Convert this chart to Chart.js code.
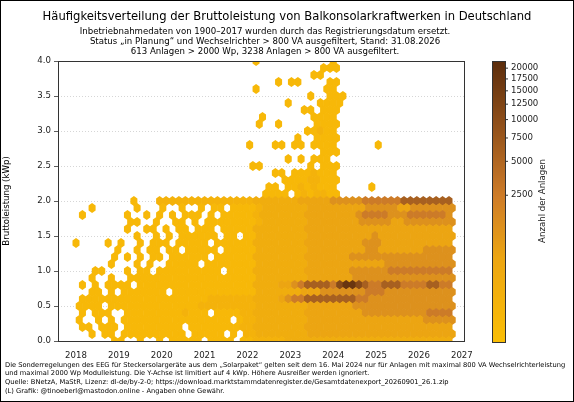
<!DOCTYPE html>
<html><head><meta charset="utf-8">
<script src="https://cdn.jsdelivr.net/npm/chart.js@4"></script>
<style>body{margin:0;background:#fff}#c{display:block}</style>
</head><body>
<canvas id="c" width="574" height="402"></canvas>
<script>
// hexbin cells: rows from 4.0 kWp down to 0.0 kWp (step 0.1)
// left part = columns 0..27 (2018.0 - 2022.05), right part = columns 28..58 (2022.2 - 2026.7), step 0.15 year
// '.' empty, digits = density level
const hexRowsLeft = [
  '', '', '', '', '', '', '', '', '', '', '', '',
  '...........................1', '', '',
  '...........................1', '', '', '', '',
  '.........1...222222222222222',
  '..1......1...1..1..1.11.1111',
  '.1......1..1.1.1.111.1.11111',
  '........11..1..11.1.11111111',
  '........1..11.1.11.111.11111',
  '.........1..1.1.111111.11.11',
  '1....1.1..1.111.11111.111111',
  '......1..1.11.11.11111.11111',
  '......1.1.1.11.111111.111111',
  '.....1...1.1..11111.11111111',
  '...11...1.11.1111111111.1111',
  '..1..1..11111111111111111111',
  '.1.1.1111.111111111111111111',
  '..11.1.1111111.1111111111111',
  '.111111111111111111112222222',
  '1111.11111111111111222222222',
  '.1.111..1111111112111.111122',
  '1..1.1.11111111111111111.122',
  '.11.111.111111111.1111111122',
  '..1.11.1111111111.11111.1.22',
  '......11..1..1.11111.1111.11'
];
const hexRowsRight = [
  '1...........1',
  '..........111',
  '.........11',
  '...1.11....11',
  '1..........11',
  '........1..111',
  '.....1....1111',
  '.......11.111',
  '.1.......1111',
  '1..1.....1111',
  '........11211',
  '......1..1111',
  '...11.11.1111......1',
  '..........111',
  '.....1.1.111',
  '1.......1.111',
  '...11.1112111',
  '....111122111',
  '..11.11212111.....1',
  '.1111.1212211',
  '3333333444445555566666677777777',
  '2333333344444444455555445555555',
  '2333333344444444566665556666665',
  '2333333344444444555554455555555',
  '3333333344444444444444444444444',
  '3333333344444444445444444444444',
  '3333333344444444455544444444444',
  '3333333344444444455444444455555',
  '3333333344444445555555555555555',
  '3333333344444444444455555555555',
  '3333333344444445555556666666666',
  '3333333344444445555555555555555',
  '3333445677776899876677766667766',
  '3333333444555555566655555555555',
  '3333456677777777665555555555555',
  '3333333344444445555555555555555',
  '3333333344444444455555555556666',
  '3333333344444444444444444455555',
  '3333333344444444444444444444444',
  '3333333344444444444444444444444',
  '2222233333333333333333333333333'
];
const levelCounts = [0, 3, 30, 120, 380, 1100, 2600, 6000, 11000, 18000];
const yearTicks = [2018, 2019, 2020, 2021, 2022, 2023, 2024, 2025, 2026, 2027];
const kwpTicks = [0, 0.5, 1, 1.5, 2, 2.5, 3, 3.5, 4];
const cbarTicks = [2500, 5000, 7500, 10000, 12500, 15000, 17500, 20000];

const X0 = 2018, DX = 0.15, DY = 0.1, NMAX = 21800, GAMMA = 0.3;
const stops = [[0,[250,190,5]],[0.3,[236,165,18]],[0.52,[206,124,40]],[0.75,[150,84,28]],[1,[92,45,12]]];
function cmap(f){
  f = Math.max(0, Math.min(1, f));
  for (let i = 1; i < stops.length; i++) {
    if (f <= stops[i][0]) {
      const a = stops[i-1], b = stops[i], t = (f - a[0]) / (b[0] - a[0]);
      const c = a[1].map((v, k) => Math.round(v + (b[1][k] - v) * t));
      return 'rgb(' + c.join(',') + ')';
    }
  }
  return 'rgb(92,45,12)';
}
const norm = v => Math.pow(v / NMAX, GAMMA);

const pts = [];
hexRowsLeft.forEach((l, k) => {
  const row = l.padEnd(28, '.').slice(0, 28) + (hexRowsRight[k] || '');
  const y = 4.0 - k * DY;
  for (let c = 0; c < row.length; c++) {
    const ch = row[c];
    if (ch === '.') continue;
    pts.push({x: X0 + c * DX + (k % 2 ? DX / 2 : 0), y: y, color: cmap(norm(levelCounts[+ch]))});
  }
});

const hexPlugin = {
  id: 'hex',
  afterDatasetsDraw(chart) {
    const ctx = chart.ctx, xs = chart.scales.x, ys = chart.scales.y, a = chart.chartArea;
    const w = Math.abs(xs.getPixelForValue(X0 + DX) - xs.getPixelForValue(X0)) / 2 + 0.3;
    const h = Math.abs(ys.getPixelForValue(0) - ys.getPixelForValue(DY)) / 1.5 + 0.3;
    ctx.save();
    ctx.beginPath();
    ctx.rect(a.left, a.top, a.right - a.left, a.bottom - a.top);
    ctx.clip();
    chart.data.datasets[0].data.forEach(d => {
      const px = xs.getPixelForValue(d.x), py = ys.getPixelForValue(d.y);
      ctx.fillStyle = d.color;
      ctx.beginPath();
      ctx.moveTo(px, py - h);
      ctx.lineTo(px + w, py - h / 2);
      ctx.lineTo(px + w, py + h / 2);
      ctx.lineTo(px, py + h);
      ctx.lineTo(px - w, py + h / 2);
      ctx.lineTo(px - w, py - h / 2);
      ctx.closePath();
      ctx.fill();
    });
    ctx.restore();
  },
  afterDraw(chart) {
    const ctx = chart.ctx, a = chart.chartArea;
    ctx.save();
    ctx.strokeStyle = '#333'; ctx.lineWidth = 1;
    ctx.strokeRect(a.left + 0.5, a.top + 0.5, a.right - a.left, a.bottom - a.top);
    // figure frame
    ctx.strokeStyle = '#000';
    ctx.strokeRect(0.5, 0.5, 573, 401);
    // titles
    ctx.fillStyle = '#000'; ctx.textAlign = 'center'; ctx.textBaseline = 'middle';
    ctx.font = '11.6px "DejaVu Sans"';
    ctx.fillText('Häufigkeitsverteilung der Bruttoleistung von Balkonsolarkraftwerken in Deutschland', 287, 17);
    ctx.font = '8.6px "DejaVu Sans"';
    const cx = (a.left + a.right) / 2 + 4;
    ctx.fillText('Inbetriebnahmedaten von 1900–2017 wurden durch das Registrierungsdatum ersetzt.', cx, 32);
    ctx.fillText('Status „in Planung“ und Wechselrichter > 800 VA ausgefiltert, Stand: 31.08.2026', cx, 42);
    ctx.fillText('613 Anlagen > 2000 Wp, 3238 Anlagen > 800 VA ausgefiltert.', cx, 52);
    // colorbar
    const cbL = 492, cbR = 505, cbT = 61, cbB = 342;
    for (let yy = cbT; yy < cbB; yy++) {
      ctx.fillStyle = cmap((cbB - yy) / (cbB - cbT));
      ctx.fillRect(cbL, yy, cbR - cbL, 1);
    }
    ctx.strokeStyle = '#333';
    ctx.strokeRect(cbL + 0.5, cbT + 0.5, cbR - cbL, cbB - cbT);
    ctx.fillStyle = '#222'; ctx.textAlign = 'left'; ctx.font = '8.6px "DejaVu Sans"';
    cbarTicks.forEach(v => {
      const yy = cbB - norm(v) * (cbB - cbT);
      ctx.beginPath(); ctx.moveTo(cbR, yy); ctx.lineTo(cbR + 3, yy); ctx.stroke();
      ctx.fillText(String(v), cbR + 6, yy);
    });
    ctx.save();
    ctx.translate(543, 201); ctx.rotate(-Math.PI / 2); ctx.textAlign = 'center';
    ctx.fillText('Anzahl der Anlagen', 0, 0);
    ctx.restore();
    // footer
    ctx.font = '6.7px "DejaVu Sans"'; ctx.fillStyle = '#000'; ctx.textAlign = 'left';
    const foot = [
      'Die Sonderregelungen des EEG für Steckersolargeräte aus dem „Solarpaket“ gelten seit dem 16. Mai 2024 nur für Anlagen mit maximal 800 VA Wechselrichterleistung',
      'und maximal 2000 Wp Modulleistung. Die Y-Achse ist limitiert auf 4 kWp. Höhere Ausreißer werden ignoriert.',
      'Quelle: BNetzA, MaStR, Lizenz: dl-de/by-2-0; https://download.marktstammdatenregister.de/Gesamtdatenexport_20260901_26.1.zip',
      '(L) Grafik: @tinoeberl@mastodon.online - Angaben ohne Gewähr.'
    ];
    foot.forEach((t, i) => ctx.fillText(t, 5, 365 + i * 8.6));
    ctx.restore();
  }
};

new Chart(document.getElementById('c'), {
  type: 'scatter',
  data: { datasets: [{ data: pts, pointRadius: 0, pointHoverRadius: 0 }] },
  options: {
    responsive: false, animation: false, events: [],
    layout: { padding: { top: 61, right: 110, bottom: 41, left: 0 } },
    plugins: { legend: { display: false }, tooltip: { enabled: false } },
    scales: {
      x: {
        type: 'linear', min: 2017.58, max: 2027.05,
        afterBuildTicks: s => { s.ticks = yearTicks.map(v => ({value: v})); },
        afterFit: s => { s.height = 20; },
        grid: { display: false, drawTicks: true },
        border: { display: false },
        ticks: { color: '#222', font: { family: 'DejaVu Sans', size: 8.6 }, padding: 2, callback: v => String(v) }
      },
      y: {
        min: 0, max: 4,
        afterBuildTicks: s => { s.ticks = kwpTicks.map(v => ({value: v})); },
        afterFit: s => { s.width = 58; },
        grid: { color: '#ccc', lineWidth: 0.8, tickColor: '#333', tickLength: 4 },
        border: { display: false, dash: [1, 2] },
        ticks: { color: '#222', font: { family: 'DejaVu Sans', size: 8.6 }, padding: 3, callback: v => v.toFixed(1) },
        title: { display: true, text: 'Bruttoleistung (kWp)', color: '#000', font: { family: 'DejaVu Sans', size: 8.6 }, padding: 2 }
      }
    }
  },
  plugins: [hexPlugin]
});
</script>
</body></html>
